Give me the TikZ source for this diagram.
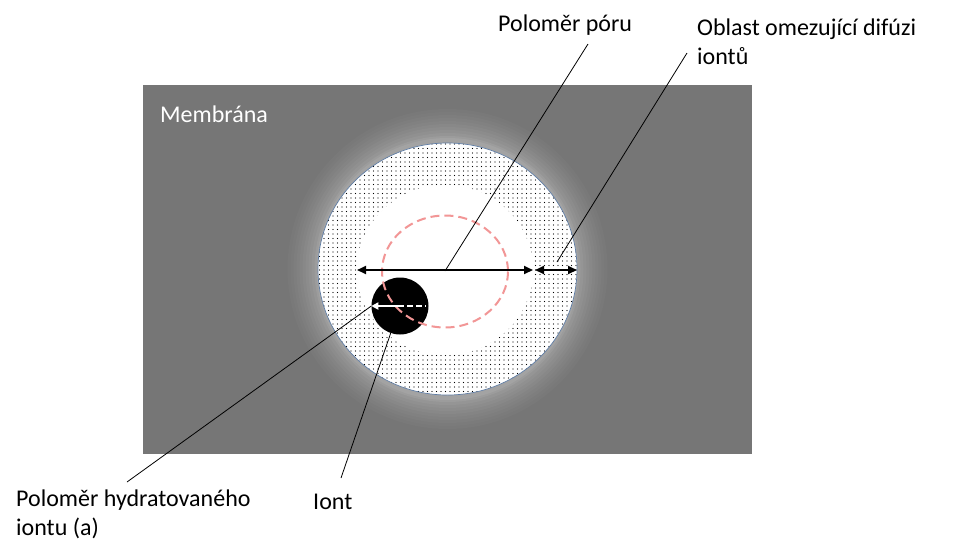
\documentclass[tikz,border=0pt]{standalone}
\usepackage{fontspec}
\setmainfont{Carlito}
\usetikzlibrary{arrows.meta,patterns.meta}
\definecolor{membr}{RGB}{118,118,118}
\definecolor{rimblue}{RGB}{95,125,165}
\definecolor{dashred}{RGB}{242,150,150}
\tikzdeclarepattern{
  name=finedots,
  type=uncolored,
  bottom left={(-2.25pt,-2.25pt)},
  top right={(2.25pt,2.25pt)},
  tile size={(4.5pt,4.5pt)},
  code={\fill (0pt,0pt) circle (0.65pt);}
}
\begin{document}
\begin{tikzpicture}[x=1pt,y=-1pt,
  lbl/.style={font=\fontsize{24}{29}\selectfont, inner sep=0pt, anchor=base west, align=left},
  leader/.style={draw=black, line width=0.8pt},
  dim/.style={line width=2pt, {Triangle[length=9pt,width=8pt]}-{Triangle[length=9pt,width=8pt]}}]
\useasboundingbox (0,0) rectangle (964,558);
\fill[white] (0,0) rectangle (964,558);
% membrane
\fill[membr] (143,85) rectangle (752,454);
% soft glow around the pore
\foreach \r/\p in {160/2,157/4,154/6,151/8,148/10,145/13,142/16,139/19,136/23,133/28,131/33}{
  \fill[white!\p!membr] (447.5,269) circle[radius=\r];
}
% pore
\fill[white] (447.5,269) ellipse[x radius=129.5, y radius=126];
\fill[pattern=finedots, pattern color=black] (447.5,269) ellipse[x radius=129.5, y radius=126];
\draw[rimblue, line width=0.7pt] (447.5,269) ellipse[x radius=129.5, y radius=126];
\fill[white] (445,270) ellipse[x radius=88, y radius=85];
\coordinate (innerW) at (357,270);
\coordinate (innerE) at (533,270);
\coordinate (outerW) at (535,270);
\coordinate (outerE) at (577,270);
\coordinate (poreC) at (445,271);
% ion
\node[circle, fill=black, minimum size=57pt, inner sep=0pt] (ion) at (400,306) {};
% red dashed
\draw[dashred, line width=2pt, dash pattern=on 9pt off 5pt] (445,271.5) ellipse[x radius=63, y radius=56];
% dimension arrows
\draw[dim] (innerW) -- (innerE);
\draw[dim] (outerW) -- (outerE);
\coordinate (ionMid) at (398,306);
\coordinate (ionR) at (426,306);
\draw[white, line width=2pt, -{Triangle[length=7pt,width=7pt]}] (ionMid) -- (ion.west);
\draw[white, line width=2pt, dash pattern=on 6pt off 3pt] (ionMid) -- (ionR);
% labels
\node[lbl, text=white] (membrana) at (160,122) {Membrána};
\node[lbl] (porlbl) at (498,31) {Poloměr póru};
\node[lbl] (oblast) at (697,64) {Oblast omezující difúzi\\iontů};
\node[lbl] (hydr) at (16,535) {Poloměr hydratovaného\\iontu (a)};
\node[lbl] (iont) at (313,509) {Iont};
% leaders
\coordinate (porlead) at (588,44);
\coordinate (oblead) at (687,53);
\coordinate (oblend) at (557,262);
\coordinate (hydlead) at (127,482);
\coordinate (iontlead) at (341,478);
\draw[leader] (porlead) -- (poreC);
\draw[leader] (oblead) -- (oblend);
\draw[leader] (hydlead) -- (ion.west);
\draw[leader] (iontlead) -- (ion);
\end{tikzpicture}
\end{document}
